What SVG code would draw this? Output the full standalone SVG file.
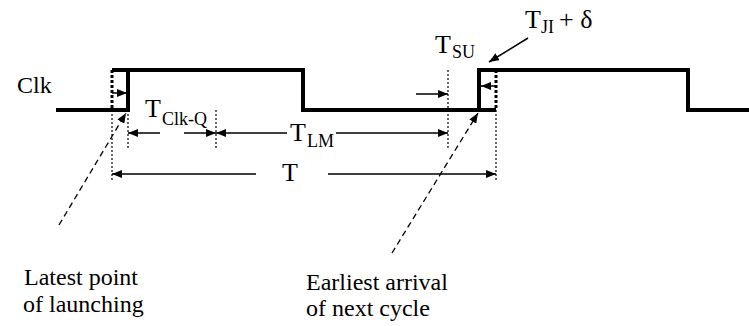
<svg xmlns="http://www.w3.org/2000/svg" width="749" height="326" viewBox="0 0 749 326">
<defs>
<style>
.t{font-family:"Liberation Serif","DejaVu Serif",serif;fill:#000}
.big{font-size:26px}
.sub{font-size:18px}
.lbl{font-size:24px}
.wave{fill:none;stroke:#000;stroke-width:4;stroke-linejoin:miter}
.thickdot{stroke:#000;stroke-width:3;stroke-dasharray:3 2;fill:none}
.dot{stroke:#000;stroke-width:1.2;stroke-dasharray:2 2;fill:none}
.arr{stroke:#000;stroke-width:1.5;fill:none;marker-end:url(#ah)}
.dash{stroke:#000;stroke-width:1.3;stroke-dasharray:6 4;fill:none;marker-end:url(#ah)}
</style>
<marker id="ah" viewBox="0 0 10 8" refX="10" refY="4" markerWidth="10" markerHeight="8" markerUnits="userSpaceOnUse" orient="auto">
<path d="M0,0 L10,4 L0,8 Z" fill="#000"/>
</marker>
</defs>
<rect width="749" height="326" fill="#fff"/>
<g id="clock">
<polyline class="wave" points="56,110 128,110 128,70 303,70 303,110 479,110 479,70 688,70 688,110 749,110"/>
<line x1="112" y1="70" x2="128" y2="70" stroke="#000" stroke-width="4"/>
<line x1="479" y1="110" x2="496" y2="110" stroke="#000" stroke-width="4"/>
<line class="thickdot" x1="112" y1="70" x2="112" y2="110"/>
<line class="thickdot" x1="496" y1="70" x2="496" y2="110"/>
<text class="t lbl" x="17" y="93" font-family="Liberation Serif, DejaVu Serif, serif">Clk</text>
</g>
<g id="guides">
<line class="dot" x1="112" y1="110" x2="112" y2="182"/>
<line class="dot" x1="496" y1="110" x2="496" y2="182"/>
<line class="dot" x1="128" y1="110" x2="128" y2="150"/>
<line class="dot" x1="216" y1="110" x2="216" y2="150"/>
<line class="dot" x1="448" y1="70" x2="448" y2="150"/>
</g>
<g id="connectors">
<line class="arr" x1="112" y1="93" x2="127" y2="93"/>
<line class="arr" x1="496" y1="86" x2="481" y2="86"/>
<line class="arr" x1="160" y1="133" x2="128" y2="133"/>
<line class="arr" x1="184" y1="133" x2="216" y2="133"/>
<line class="arr" x1="287" y1="133" x2="216" y2="133"/>
<line class="arr" x1="336" y1="133" x2="448" y2="133"/>
<line class="arr" x1="416" y1="94" x2="448" y2="94"/>
<line class="arr" x1="256" y1="174" x2="112" y2="174"/>
<line class="arr" x1="328" y1="174" x2="496" y2="174"/>
<line class="arr" x1="528" y1="38" x2="489" y2="62"/>
<line class="dash" x1="59" y1="225" x2="126" y2="113"/>
<line class="dash" x1="392" y1="253" x2="478" y2="113"/>
</g>
<g id="label-tclkq">
<text class="t big" x="145" y="117">T</text>
<text class="t sub" x="162" y="125">Clk-Q</text>
</g>
<g id="label-tlm">
<text class="t big" x="290" y="141">T</text>
<text class="t sub" x="307" y="147">LM</text>
</g>
<g id="label-t">
<text class="t big" x="282" y="181">T</text>
</g>
<g id="label-tsu">
<text class="t big" x="435" y="53">T</text>
<text class="t sub" x="452" y="58">SU</text>
</g>
<g id="label-tji">
<text class="t big" x="525" y="28">T</text>
<text class="t sub" x="541" y="33">JI</text>
<text class="t big" x="559" y="28">+ δ</text>
</g>
<g id="note-latest">
<text class="t lbl" x="24" y="285">Latest point</text>
<text class="t lbl" x="23" y="312">of launching</text>
</g>
<g id="note-earliest">
<text class="t lbl" x="306" y="290">Earliest arrival</text>
<text class="t lbl" x="306" y="316">of next cycle</text>
</g>
</svg>
